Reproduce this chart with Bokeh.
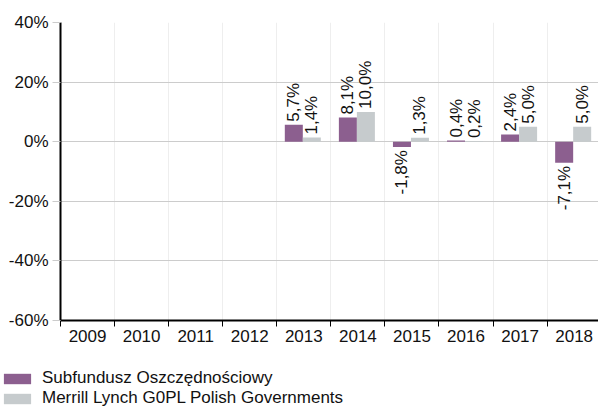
import math
from bokeh.plotting import figure
from bokeh.layouts import column, row
from bokeh.models import (ColumnDataSource, FixedTicker, PrintfTickFormatter,
                          Legend, LegendItem, Range1d)
from bokeh.core.properties import value
from bokeh.embed import file_html
from bokeh.resources import INLINE

years = ["2009", "2010", "2011", "2012", "2013", "2014", "2015", "2016", "2017", "2018"]
fund_name = "Subfundusz Oszczędnościowy"
bench_name = "Merrill Lynch G0PL Polish Governments"
fund = [None, None, None, None, 5.7, 8.1, -1.8, 0.4, 2.4, -7.1]
bench = [None, None, None, None, 1.4, 10.0, 1.3, 0.2, 5.0, 5.0]
y_ticks = [-60, -40, -20, 0, 20, 40]

FONT = "Liberation Sans"
PURPLE = "#8c5f8f"
GREY = "#c6cbcd"
FS = "17px"

W = 598
p = figure(width=W, height=368, output_backend="svg", toolbar_location=None,
           x_range=Range1d(0, 9.95), y_range=Range1d(-60, 40),
           min_border_left=60, min_border_right=0, min_border_top=22,
           min_border_bottom=48)
p.outline_line_color = None
p.background_fill_color = "white"


def make_src(vals, off):
    xs, tops, labels, ys, aligns, offs = [], [], [], [], [], []
    for i, v in enumerate(vals):
        if v is None:
            continue
        xs.append(i + off)
        tops.append(v)
        labels.append(("%.1f" % v).replace(".", ",") + "%")
        ys.append(v)
        aligns.append("left" if v >= 0 else "right")
        offs.append(-3 if v >= 0 else 3)
    return ColumnDataSource(dict(x=xs, top=tops, label=labels, y=ys,
                                 align=aligns, off=offs))


src_f = make_src(fund, 0.315)
src_b = make_src(bench, 0.648)

r_f = p.vbar(x="x", top="top", bottom=0, width=0.333, source=src_f,
             fill_color=PURPLE, line_color=None)
r_b = p.vbar(x="x", top="top", bottom=0, width=0.333, source=src_b,
             fill_color=GREY, line_color=None)

for src in (src_f, src_b):
    p.text(x="x", y="y", text="label", source=src, angle=math.pi / 2,
           text_align="align", text_baseline="middle", y_offset="off",
           text_font=value(FONT), text_font_size=FS, text_color="#111111")

# x axis
xa = p.xaxis[0]
xa.ticker = FixedTicker(ticks=[i + 0.5 for i in range(len(years))],
                        minor_ticks=list(range(len(years) + 1)))
xa.major_label_overrides = {i + 0.5: y for i, y in enumerate(years)}
xa.major_tick_in = 0
xa.major_tick_out = 0
xa.minor_tick_in = 0
xa.minor_tick_out = 6
xa.minor_tick_line_color = "black"
xa.axis_line_color = "black"
xa.axis_line_width = 2
xa.major_label_standoff = 3
xa.major_label_text_font = FONT
xa.major_label_text_font_size = FS
xa.major_label_text_color = "#111111"

# y axis
ya = p.yaxis[0]
ya.ticker = FixedTicker(ticks=y_ticks, minor_ticks=[])
ya.formatter = PrintfTickFormatter(format="%d%%")
ya.major_tick_in = 0
ya.major_tick_out = 8
ya.major_tick_line_color = "#cccccc"
ya.axis_line_color = "black"
ya.axis_line_width = 2
ya.major_label_standoff = 4
ya.major_label_text_font = FONT
ya.major_label_text_font_size = FS
ya.major_label_text_color = "#111111"

p.xgrid.ticker = FixedTicker(ticks=list(range(1, len(years))))
p.xgrid.grid_line_color = "#eeeeee"
p.ygrid.ticker = FixedTicker(ticks=y_ticks)
p.ygrid.grid_line_color = "#cccccc"

# legend figure (separate strip under the chart)
lf = figure(width=W, height=38, output_backend="svg", toolbar_location=None,
            x_range=Range1d(0, 1), y_range=Range1d(0, 1),
            min_border=0, x_axis_type=None, y_axis_type=None)
lf.outline_line_color = None
lf.xgrid.visible = False
lf.ygrid.visible = False
lr_f = lf.vbar(x=[5], top=[5], width=0.1, fill_color=PURPLE, line_color=None)
lr_b = lf.vbar(x=[5], top=[5], width=0.1, fill_color=GREY, line_color=None)

legend = Legend(items=[LegendItem(label=fund_name, renderers=[lr_f]),
                       LegendItem(label=bench_name, renderers=[lr_b])],
                location="top_left", orientation="vertical",
                glyph_width=34, glyph_height=13, label_height=19,
                label_standoff=8, spacing=0, padding=0, margin=0,
                label_text_font=FONT, label_text_font_size=FS,
                label_text_color="#111111",
                border_line_alpha=0, background_fill_alpha=0)
lf.add_layout(legend, "center")

layout = column(p, row(lf), spacing=0)
open("out.html", "w").write(file_html(layout, INLINE))
